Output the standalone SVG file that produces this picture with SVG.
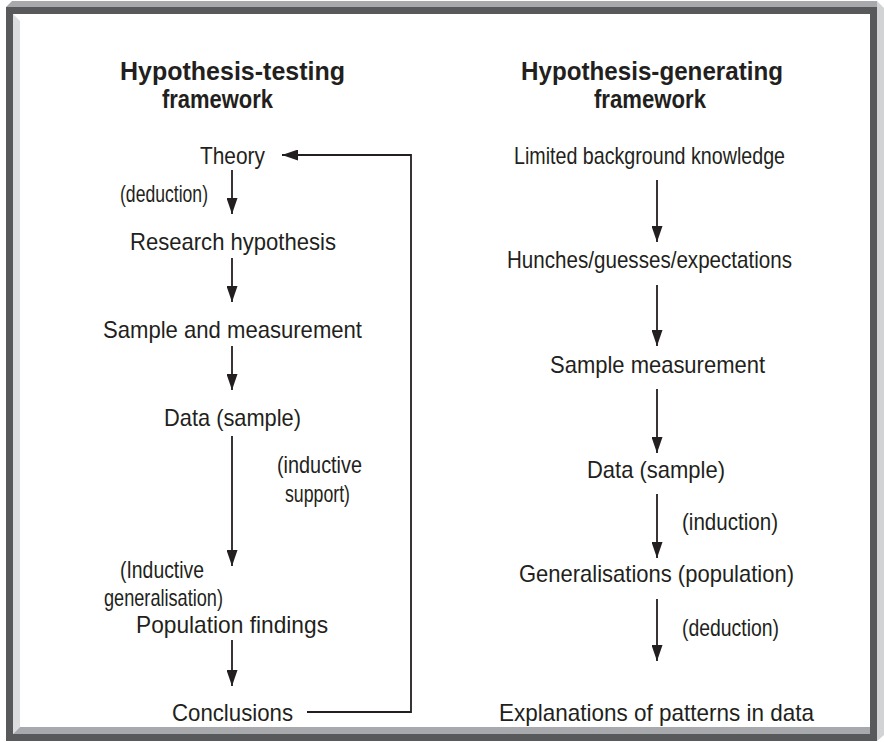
<svg xmlns="http://www.w3.org/2000/svg" width="884" height="742" viewBox="0 0 884 742">
  <defs>
    <style>
      .title { font-family: "Liberation Sans", Arial, sans-serif; font-weight: bold; font-size: 25px; fill: #231f20; }
      .lbl { font-family: "Liberation Sans Narrow", "Liberation Sans", Arial, sans-serif; font-size: 24px; fill: #231f20; }
      .wire { fill: none; stroke: #231f20; stroke-width: 1.8; }
    </style>
    <marker id="head" markerUnits="userSpaceOnUse" markerWidth="16" markerHeight="11" refX="16" refY="5.5" orient="auto">
      <path d="M0,0 L16,5.5 L0,11 z" fill="#231f20"/>
    </marker>
  </defs>

  <!-- bevelled frame -->
  <g id="frame">
    <rect x="0" y="0" width="884" height="742" fill="#ffffff"/>
    <polygon points="12,1 877,1 877,7 6,7" fill="#a7a9ac"/>
    <polygon points="877,1 884,8 884,735 877,741" fill="#d1d3d4"/>
    <rect x="9.5" y="10.5" width="864" height="727" fill="none" stroke="#58595b" stroke-width="7"/>
    <polygon points="13,14 20,21 20,727 13,734" fill="#dcddde"/>
    <polygon points="13,734 20,727 870,727 870,734" fill="#a7a9ac"/>
  </g>

  <!-- column headings -->
  <g id="title-testing">
    <text class="title" x="120" y="80" textLength="225" lengthAdjust="spacingAndGlyphs">Hypothesis-testing</text>
    <text class="title" x="162" y="108" textLength="111" lengthAdjust="spacingAndGlyphs">framework</text>
  </g>
  <g id="title-generating">
    <text class="title" x="521" y="80" textLength="262" lengthAdjust="spacingAndGlyphs">Hypothesis-generating</text>
    <text class="title" x="594" y="108" textLength="112" lengthAdjust="spacingAndGlyphs">framework</text>
  </g>

  <!-- connectors -->
  <g id="connectors" class="wire">
    <line x1="232" y1="170" x2="232" y2="214" marker-end="url(#head)"/>
    <line x1="232" y1="258" x2="232" y2="302" marker-end="url(#head)"/>
    <line x1="232" y1="346" x2="232" y2="390" marker-end="url(#head)"/>
    <line x1="232" y1="436" x2="232" y2="566" marker-end="url(#head)"/>
    <line x1="232" y1="640" x2="232" y2="686" marker-end="url(#head)"/>
    <polyline points="307,712 411,712 411,155 282,155" marker-end="url(#head)"/>

    <line x1="657" y1="180" x2="657" y2="242" marker-end="url(#head)"/>
    <line x1="657" y1="285" x2="657" y2="346" marker-end="url(#head)"/>
    <line x1="657" y1="389" x2="657" y2="453" marker-end="url(#head)"/>
    <line x1="657" y1="494" x2="657" y2="558" marker-end="url(#head)"/>
    <line x1="657" y1="599" x2="657" y2="661" marker-end="url(#head)"/>
  </g>

  <!-- hypothesis-testing steps -->
  <g id="theory"><text class="lbl" x="200" y="164" textLength="65" lengthAdjust="spacingAndGlyphs">Theory</text></g>
  <g id="deduction-left"><text class="lbl" x="120" y="202" textLength="88" lengthAdjust="spacingAndGlyphs">(deduction)</text></g>
  <g id="research-hypothesis"><text class="lbl" x="130" y="250" textLength="206" lengthAdjust="spacingAndGlyphs">Research hypothesis</text></g>
  <g id="sample-and-measurement"><text class="lbl" x="103" y="338" textLength="259" lengthAdjust="spacingAndGlyphs">Sample and measurement</text></g>
  <g id="data-sample-left"><text class="lbl" x="164" y="426" textLength="137" lengthAdjust="spacingAndGlyphs">Data (sample)</text></g>
  <g id="inductive-support">
    <text class="lbl" x="277" y="473" textLength="85" lengthAdjust="spacingAndGlyphs">(inductive</text>
    <text class="lbl" x="285" y="502" textLength="65" lengthAdjust="spacingAndGlyphs">support)</text>
  </g>
  <g id="inductive-generalisation">
    <text class="lbl" x="120" y="578" textLength="84" lengthAdjust="spacingAndGlyphs">(Inductive</text>
    <text class="lbl" x="104" y="606" textLength="119" lengthAdjust="spacingAndGlyphs">generalisation)</text>
  </g>
  <g id="population-findings"><text class="lbl" x="136" y="633" textLength="192" lengthAdjust="spacingAndGlyphs">Population findings</text></g>
  <g id="conclusions"><text class="lbl" x="172" y="721" textLength="121" lengthAdjust="spacingAndGlyphs">Conclusions</text></g>

  <!-- hypothesis-generating steps -->
  <g id="background-knowledge"><text class="lbl" x="514" y="164" textLength="271" lengthAdjust="spacingAndGlyphs">Limited background knowledge</text></g>
  <g id="hunches"><text class="lbl" x="507" y="268" textLength="285" lengthAdjust="spacingAndGlyphs">Hunches/guesses/expectations</text></g>
  <g id="sample-measurement"><text class="lbl" x="550" y="373" textLength="215" lengthAdjust="spacingAndGlyphs">Sample measurement</text></g>
  <g id="data-sample-right"><text class="lbl" x="587" y="478" textLength="138" lengthAdjust="spacingAndGlyphs">Data (sample)</text></g>
  <g id="induction"><text class="lbl" x="682" y="530" textLength="96" lengthAdjust="spacingAndGlyphs">(induction)</text></g>
  <g id="generalisations"><text class="lbl" x="519" y="582" textLength="275" lengthAdjust="spacingAndGlyphs">Generalisations (population)</text></g>
  <g id="deduction-right"><text class="lbl" x="682" y="636" textLength="97" lengthAdjust="spacingAndGlyphs">(deduction)</text></g>
  <g id="explanations"><text class="lbl" x="499" y="721" textLength="315" lengthAdjust="spacingAndGlyphs">Explanations of patterns in data</text></g>
</svg>
